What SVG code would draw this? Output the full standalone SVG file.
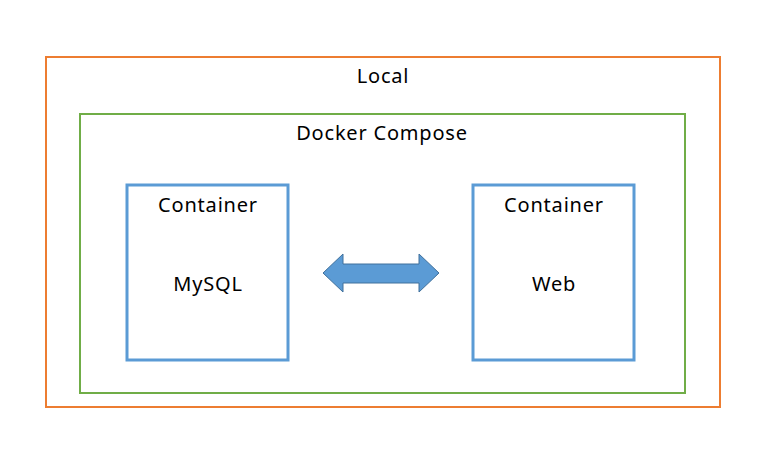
<svg xmlns="http://www.w3.org/2000/svg" width="776" height="449" viewBox="0 0 776 449">
<style>
text{font-family:"Noto Sans","Open Sans","DejaVu Sans",sans-serif;font-size:20px;letter-spacing:0.8px;fill:#000;text-anchor:middle}
.box{fill:none}
.cont{fill:#fff;stroke:#5b9bd5;stroke-width:3}
</style>
<rect width="776" height="449" fill="#fff"/>
<g id="local">
<rect class="box" x="46" y="57" width="674" height="350" stroke="#ed7d31" stroke-width="2"/>
<text x="383" y="83">Local</text>
</g>
<g id="compose">
<rect class="box" x="80" y="114" width="605" height="279" stroke="#70ad47" stroke-width="2"/>
<text x="382" y="140">Docker Compose</text>
</g>
<g id="mysql">
<rect class="cont" x="127" y="185" width="161" height="175"/>
<text x="208" y="212">Container</text>
<text x="208" y="291">MySQL</text>
</g>
<g id="web">
<rect class="cont" x="473" y="185" width="161" height="175"/>
<text x="554" y="212">Container</text>
<text x="554" y="291">Web</text>
</g>
<g id="connectors">
<path d="M323,273 L343,254 L343,264 L419,264 L419,254 L439,273 L419,292 L419,283 L343,283 L343,292 Z" fill="#5b9bd5" stroke="#41719c" stroke-width="1"/>
</g>
</svg>
